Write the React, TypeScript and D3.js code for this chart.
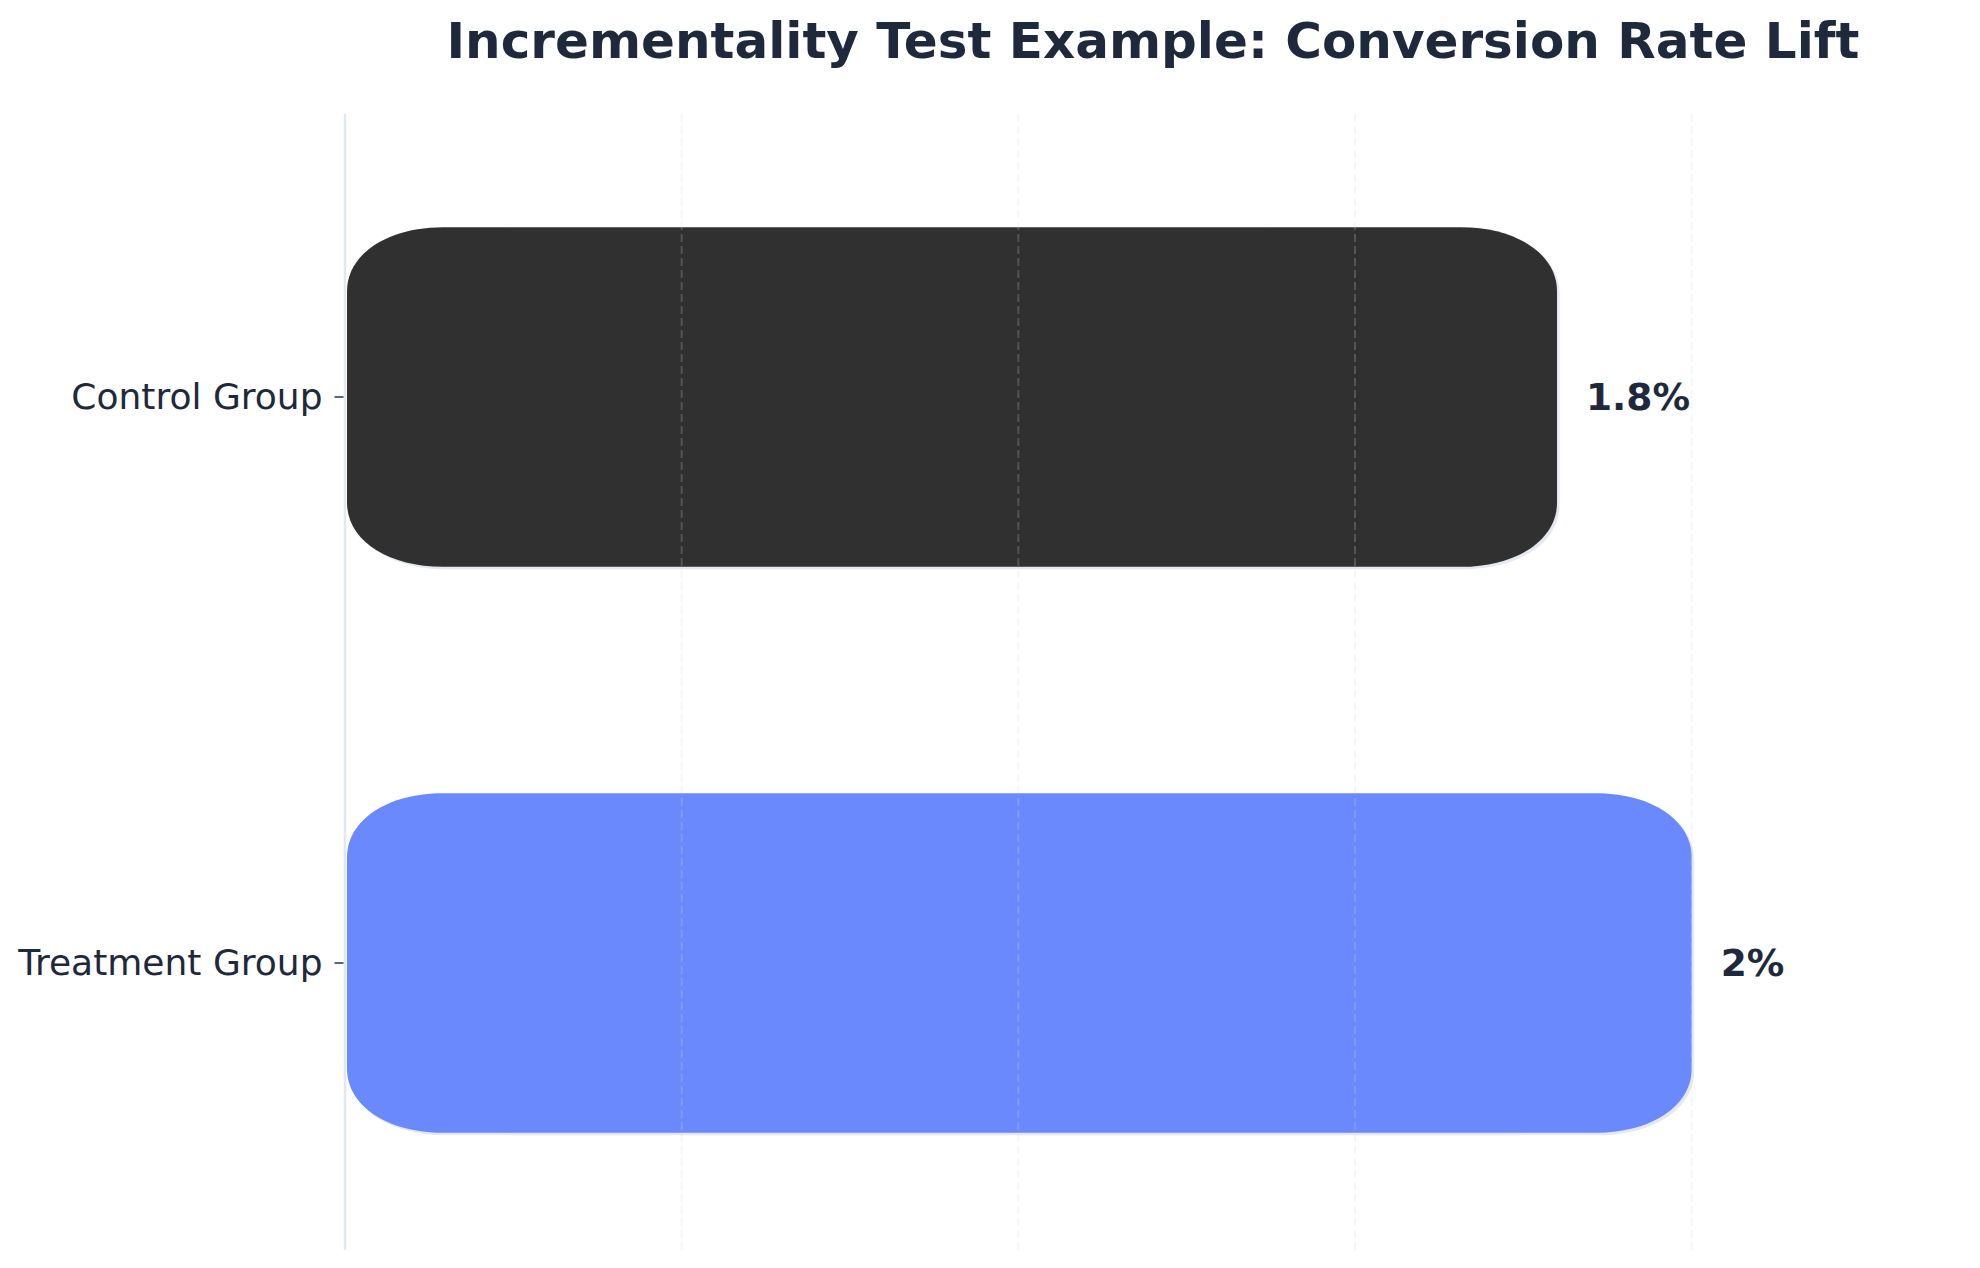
import { useRef, useEffect } from "react";
import * as d3 from "d3";

const categories = ["Control Group", "Treatment Group"];
const values = [1.8, 2.0];
const valueLabels = ["1.8%", "2%"];
const barColors = ["#303030", "#6a89fc"];
const gridTicks = [0.5, 1.0, 1.5, 2.0];

const WIDTH = 1980;
const HEIGHT = 1268;

const App = () => {
  const svgRef = useRef<SVGSVGElement | null>(null);

  useEffect(() => {
    document.body.style.margin = "0";
    if (!svgRef.current) return;

    const svg = d3.select(svgRef.current);
    svg.selectAll("*").remove();

    const margin = { top: 114, right: 19, bottom: 18, left: 345 };
    const innerWidth = WIDTH - margin.left - margin.right;
    const innerHeight = HEIGHT - margin.top - margin.bottom;
    const textColor = "#1e293b";

    const xScale = d3.scaleLinear().domain([0, d3.max(values)! * 1.2]).range([0, innerWidth]);
    const yScale = d3.scaleBand().domain(categories).range([0, innerHeight - 4]).padding(0);
    const barH = yScale.step() * 0.6;

    const g = svg.append("g").attr("transform", `translate(${margin.left},${margin.top})`);

    // rounded bar path (elliptical corners)
    const rx = 96;
    const ry = 64;
    const roundRect = (x0: number, y0: number, w: number, h: number) => {
      const k = 0.42;
      const p = d3.path();
      p.moveTo(x0 + rx, y0);
      p.lineTo(x0 + w - rx, y0);
      p.bezierCurveTo(x0 + w - rx * k, y0, x0 + w, y0 + ry * k, x0 + w, y0 + ry);
      p.lineTo(x0 + w, y0 + h - ry);
      p.bezierCurveTo(x0 + w, y0 + h - ry * k, x0 + w - rx * k, y0 + h, x0 + w - rx, y0 + h);
      p.lineTo(x0 + rx, y0 + h);
      p.bezierCurveTo(x0 + rx * k, y0 + h, x0, y0 + h - ry * k, x0, y0 + h - ry);
      p.lineTo(x0, y0 + ry);
      p.bezierCurveTo(x0, y0 + ry * k, x0 + rx * k, y0, x0 + rx, y0);
      p.closePath();
      return p.toString();
    };

    const rows = categories.map((c, i) => ({ c, v: values[i], label: valueLabels[i], color: barColors[i] }));

    // shadow
    g.selectAll("path.shadow")
      .data(rows)
      .enter()
      .append("path")
      .attr("class", "shadow")
      .attr("d", (d) => {
        const cy = yScale(d.c)! + yScale.bandwidth() / 2;
        return roundRect(xScale(0) + 2 + 2.5, cy - barH / 2 + 2.5, xScale(d.v) - xScale(0) - 2, barH);
      })
      .attr("fill", "#e6e8f0");

    // bars
    g.selectAll("path.bar")
      .data(rows)
      .enter()
      .append("path")
      .attr("class", "bar")
      .attr("d", (d) => {
        const cy = yScale(d.c)! + yScale.bandwidth() / 2;
        return roundRect(xScale(0) + 2, cy - barH / 2, xScale(d.v) - xScale(0) - 2, barH);
      })
      .attr("fill", (d) => d.color);

    // grid lines on top
    g.selectAll("line.grid")
      .data(gridTicks)
      .enter()
      .append("line")
      .attr("class", "grid")
      .attr("x1", (d) => xScale(d))
      .attr("x2", (d) => xScale(d))
      .attr("y1", 0)
      .attr("y2", innerHeight)
      .attr("stroke", "#cfd5de")
      .attr("stroke-opacity", 0.22)
      .attr("stroke-width", 2)
      .attr("stroke-dasharray", "8,4");

    // left spine
    g.append("line")
      .attr("x1", 0)
      .attr("x2", 0)
      .attr("y1", 0)
      .attr("y2", innerHeight)
      .attr("stroke", "#e2e8f0")
      .attr("stroke-width", 2.5);

    // y axis ticks and labels
    const yAxis = d3.axisLeft(yScale).tickSize(9).tickPadding(12);
    const yG = g.append("g").attr("transform", "translate(-1.5,0)").call(yAxis);
    yG.select(".domain").remove();
    yG.selectAll(".tick line").attr("stroke", "#334155").attr("stroke-width", 1.6);
    yG.selectAll(".tick text")
      .attr("fill", textColor)
      .attr("font-family", "DejaVu Sans")
      .attr("font-size", "36px");

    // value labels
    g.selectAll("text.value")
      .data(rows)
      .enter()
      .append("text")
      .attr("class", "value")
      .attr("x", (d) => xScale(d.v) + 29)
      .attr("y", (d) => yScale(d.c)! + yScale.bandwidth() / 2)
      .attr("dy", "0.35em")
      .attr("fill", textColor)
      .attr("font-family", "DejaVu Sans")
      .attr("font-weight", "bold")
      .attr("font-size", "37.5px")
      .text((d) => d.label);

    // title
    svg
      .append("text")
      .attr("x", margin.left + innerWidth / 2)
      .attr("y", 58)
      .attr("text-anchor", "middle")
      .attr("fill", textColor)
      .attr("font-family", "DejaVu Sans")
      .attr("font-weight", "bold")
      .attr("font-size", "50px")
      .text("Incrementality Test Example: Conversion Rate Lift");
  }, []);

  return (
    <div style={{ width: WIDTH, height: HEIGHT, background: "#fff" }}>
      <svg ref={svgRef} width={WIDTH} height={HEIGHT} style={{ display: "block" }}></svg>
    </div>
  );
};

export default App;
